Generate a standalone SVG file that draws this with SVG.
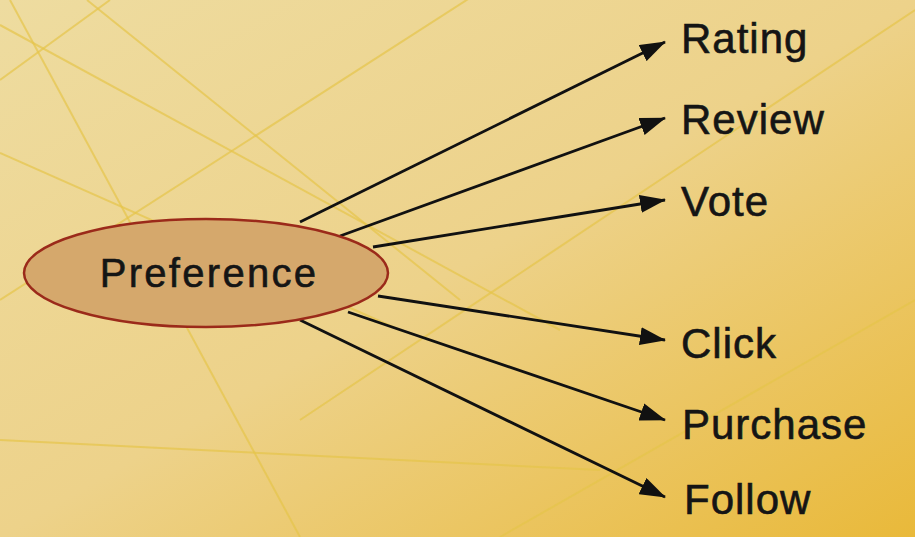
<svg xmlns="http://www.w3.org/2000/svg" width="915" height="537" viewBox="0 0 915 537">
<defs>
<linearGradient id="bg" x1="0" y1="0" x2="1" y2="1">
<stop offset="0" stop-color="#eedca0"/>
<stop offset="0.5" stop-color="#edd28a"/>
<stop offset="1" stop-color="#e9b93a"/>
</linearGradient>
<marker id="ah" viewBox="0 0 26 18" refX="25" refY="9" markerWidth="26" markerHeight="18" markerUnits="userSpaceOnUse" orient="auto">
<path d="M0,0 L26,9 L0,18 Z" fill="#111"/>
</marker>
<style>
.deco{stroke:#e6c54a;stroke-width:2;fill:none;opacity:0.7}
.edge{stroke:#111;stroke-width:2.8;fill:none;marker-end:url(#ah)}
.lbl{font-family:"Liberation Sans",Arial,sans-serif;font-size:42px;fill:#151515;stroke:#151515;stroke-width:0.6;letter-spacing:1px}
</style>
</defs>
<rect width="915" height="537" fill="url(#bg)"/>
<g id="background-lines">
<line class="deco" x1="0" y1="25" x2="560" y2="330"/>
<line class="deco" x1="10" y1="0" x2="300" y2="537"/>
<line class="deco" x1="87" y1="0" x2="460" y2="300"/>
<line class="deco" x1="560" y1="-60" x2="0" y2="300"/>
<line class="deco" x1="110" y1="0" x2="0" y2="80"/>
<line class="deco" x1="0" y1="153" x2="400" y2="330"/>
<line class="deco" x1="915" y1="10" x2="300" y2="420"/>
<line class="deco" x1="0" y1="440" x2="600" y2="470"/>
<line class="deco" x1="915" y1="300" x2="500" y2="537"/>
</g>
<g id="connectors">
<line class="edge" x1="300" y1="222" x2="665" y2="42"/>
<line class="edge" x1="340" y1="236" x2="665" y2="118"/>
<line class="edge" x1="373" y1="247" x2="665" y2="200"/>
<line class="edge" x1="378" y1="296" x2="665" y2="340"/>
<line class="edge" x1="348" y1="312" x2="665" y2="420"/>
<line class="edge" x1="300" y1="320" x2="665" y2="497"/>
</g>
<g id="preference">
<ellipse cx="206" cy="273" rx="182" ry="54" fill="#d5a86c" stroke="#9b2a1a" stroke-width="2.5"/>
<text class="lbl" x="209" y="287" text-anchor="middle" style="font-size:40px;letter-spacing:2.3px">Preference</text>
</g>
<g id="rating"><text class="lbl" x="681" y="53">Rating</text></g>
<g id="review"><text class="lbl" x="681" y="134">Review</text></g>
<g id="vote"><text class="lbl" x="681" y="216">Vote</text></g>
<g id="click"><text class="lbl" x="681" y="358">Click</text></g>
<g id="purchase"><text class="lbl" x="682" y="439">Purchase</text></g>
<g id="follow"><text class="lbl" x="684" y="514">Follow</text></g>
</svg>
